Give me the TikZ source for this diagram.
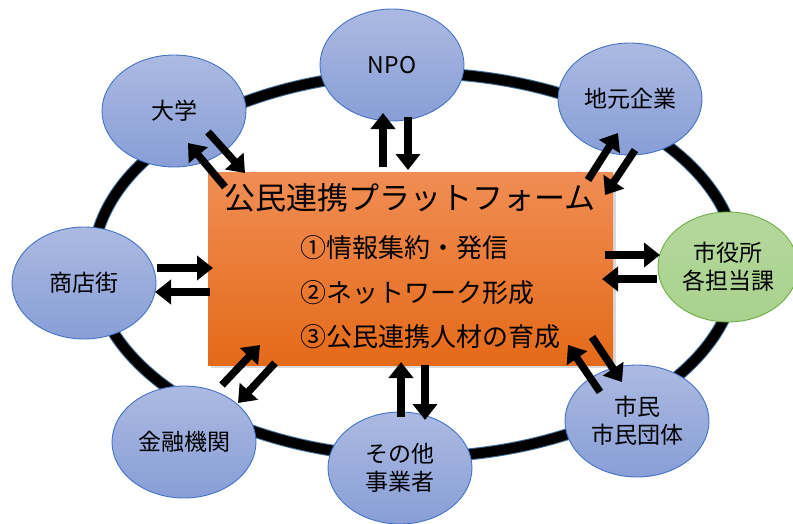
\documentclass[tikz,border=0pt]{standalone}
\usepackage{fontspec}
\setmainfont{Noto Sans CJK JP}
\usetikzlibrary{arrows.meta,shadows,calc,shapes.geometric}
\definecolor{nodeTop}{RGB}{172,186,226}
\definecolor{nodeBot}{RGB}{136,158,214}
\definecolor{nodeBorder}{RGB}{68,114,196}
\definecolor{greenFill}{RGB}{169,209,142}
\definecolor{greenTop}{RGB}{180,216,156}
\definecolor{greenBorder}{RGB}{112,173,71}
\definecolor{boxTop}{RGB}{240,141,84}
\definecolor{boxBot}{RGB}{228,106,24}
\definecolor{ringBlue}{RGB}{65,113,156}
\tikzset{
  party/.style={ellipse, draw=nodeBorder, line width=0.9pt, top color=nodeTop, bottom color=nodeBot,
    minimum width=144pt, minimum height=112pt, inner sep=0pt, align=center,
    font=\fontsize{23}{28}\selectfont},
  cityhall/.style={party, draw=greenBorder, top color=greenTop, bottom color=greenFill, minimum width=140pt, minimum height=110pt},
  platform/.style={rectangle, top color=boxTop, bottom color=boxBot, minimum width=405pt, minimum height=193pt,
    inner sep=0pt, drop shadow={shadow xshift=3pt, shadow yshift=-3pt, opacity=0.3}},
  arr/.style={line width=7.5pt, -{Triangle[length=16pt,width=24pt]}},
  titletext/.style={font=\fontsize{31}{31}\selectfont},
  itemtext/.style={font=\fontsize{26}{26}\selectfont, anchor=west, inner sep=0pt}
}
\begin{document}
\begin{tikzpicture}[x={(1pt,0pt)}, y={(0pt,-1pt)}]
\useasboundingbox (0,0) rectangle (793,523);
% ring
\draw[line width=12pt, ringBlue] (415,265) ellipse [x radius=322pt, y radius=192pt];
\draw[line width=10pt, black] (415,265) ellipse [x radius=322pt, y radius=192pt];
% platform
\node[platform] (box) at (410.5,268.5) {};
\node[titletext] (title) at (410,198) {公民連携プラットフォーム};
\node[itemtext] (item1) at (300,248) {①情報集約・発信};
\node[itemtext] (item2) at (300,293) {②ネットワーク形成};
\node[itemtext] (item3) at (300,337) {③公民連携人材の育成};
% parties
\node[party] (npo) at (392,65) {NPO};
\node[party] (daigaku) at (174,111) {大学};
\node[party] (jimoto) at (630,99) {地元企業};
\node[cityhall] (shiyakusho) at (728,267) {市役所\\各担当課};
\node[party] (shotengai) at (84,283) {商店街};
\node[party] (kinyu) at (184,442) {金融機関};
\node[party] (sonota) at (400,468) {その他\\事業者};
\node[party] (shimin) at (637,421) {市民\\市民団体};
% arrows
\draw[arr] ($(daigaku)+(34,21)$) -- ($(daigaku)+(71,62)$);
\draw[arr] ($(daigaku)+(51,76)$) -- ($(daigaku)+(14,32)$);
\draw[arr] ($(npo)+(-9,102)$) -- ($(npo)+(-9,48)$);
\draw[arr] ($(npo)+(16,52)$) -- ($(npo)+(16,105)$);
\draw[arr] ($(jimoto)+(-42,81)$) -- ($(jimoto)+(-12,34)$);
\draw[arr] ($(jimoto)+(5,51)$) -- ($(jimoto)+(-25,96)$);
\draw[arr] ($(shiyakusho)+(-123,-12)$) -- ($(shiyakusho)+(-68,-12)$);
\draw[arr] ($(shiyakusho)+(-71,12)$) -- ($(shiyakusho)+(-126,12)$);
\draw[arr] ($(shotengai)+(73,-15)$) -- ($(shotengai)+(129,-15)$);
\draw[arr] ($(shotengai)+(126,9)$) -- ($(shotengai)+(71,9)$);
\draw[arr] ($(kinyu)+(38,-57)$) -- ($(kinyu)+(76,-97)$);
\draw[arr] ($(kinyu)+(91,-79)$) -- ($(kinyu)+(54,-39)$);
\draw[arr] ($(sonota)+(1,-51)$) -- ($(sonota)+(1,-106)$);
\draw[arr] ($(sonota)+(25,-103)$) -- ($(sonota)+(25,-48)$);
\draw[arr] ($(shimin)+(-37,-29)$) -- ($(shimin)+(-69,-76)$);
\draw[arr] ($(shimin)+(-45,-84)$) -- ($(shimin)+(-15,-39)$);
\end{tikzpicture}
\end{document}
